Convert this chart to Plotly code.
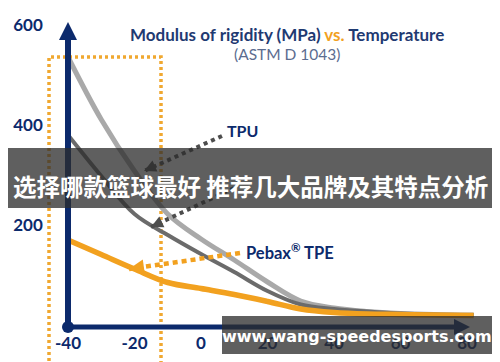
import math
import plotly.graph_objects as go

# ---------------- data ----------------
temps = [-40, -30, -20, -10, 0, 10, 20, 30, 40, 50, 60, 70, 82]
tpu_a = [540, 415, 312, 226, 176, 134, 90, 52, 38, 31, 27, 25, 24]      # light grey TPU
tpu_b = [384, 302, 226, 184, 146, 110, 72, 45, 36, 31, 27, 25, 24]      # dark grey TPU
pebax = [174, 145, 116, 89, 77, 65, 51, 36, 29, 26, 25, 24, 23]         # Pebax TPE

x_ticks = [-40, -20, 0, 20, 40, 60, 80]
y_ticks = [200, 400, 600]

title_main = "Modulus of rigidity (MPa) "
title_vs = "vs."
title_end = " Temperature"
subtitle = "(ASTM D 1043)"
banner_text = "选择哪款篮球最好 推荐几大品牌及其特点分析"
url_text = "www.wang-speedesports.com"

# ---------------- geometry helpers ----------------
W, H = 500, 362
OFF = 8                           # page body margin
PXU = 3.325                       # px per degree
X0 = -40 - (68 - OFF) / PXU
X1 = X0 + W / PXU
Y_ZERO_PX = 327 - OFF
Y1 = Y_ZERO_PX * 2
Y0 = Y1 - H * 2                   # 0.5 px per MPa


def px2x(px):
    return X0 + (px - OFF) / PXU


def px2y(py):
    return (327 - py) * 2


def fx(px):
    return (px - OFF) / W


def fy(py):
    return 1 - (py - OFF) / H


NAVY = "#0c2a6c"
ORANGE = "#f2a11f"
LGREY = "#a9a9a9"
DGREY = "#6b6b6b"

fig = go.Figure()

# curves
fig.add_trace(go.Scatter(x=temps, y=tpu_a, mode="lines",
                         line=dict(color=LGREY, width=5, shape="spline", smoothing=1.0)))
fig.add_trace(go.Scatter(x=temps, y=tpu_b, mode="lines",
                         line=dict(color=DGREY, width=4, shape="spline", smoothing=1.0)))
fig.add_trace(go.Scatter(x=temps, y=pebax, mode="lines",
                         line=dict(color=ORANGE, width=5.5, shape="spline", smoothing=1.0)))


def pointer(p_start, p_tip, color, width, dash, head):
    (sx, sy), (tx, ty) = p_start, p_tip
    fig.add_trace(go.Scatter(x=[px2x(sx), px2x(tx)], y=[px2y(sy), px2y(ty)], mode="lines",
                             line=dict(color=color, width=width, dash=dash)))
    ang = math.degrees(math.atan2(tx - sx, -(ty - sy)))
    fig.add_trace(go.Scatter(x=[px2x(tx)], y=[px2y(ty)], mode="markers",
                             marker=dict(symbol="arrow-up", size=head, color=color, angle=ang)))


pointer((222, 136), (144, 171), "#4d4d4d", 4, "4px,4px", 12)
pointer((234, 188), (151, 227), "#4d4d4d", 4, "4px,4px", 12)
pointer((240, 253), (129, 269), ORANGE, 4.5, "5px,4px", 15)

# axes (decorative, arrows)
fig.add_trace(go.Scatter(x=[-40, -40], y=[0, px2y(30)], mode="lines",
                         line=dict(color=NAVY, width=6)))
fig.add_trace(go.Scatter(x=[-40], y=[px2y(22)], mode="markers",
                         marker=dict(symbol="arrow-up", size=18, color=NAVY)))
fig.add_trace(go.Scatter(x=[-40, px2x(460)], y=[0, 0], mode="lines",
                         line=dict(color=NAVY, width=5)))
fig.add_trace(go.Scatter(x=[px2x(470)], y=[0], mode="markers",
                         marker=dict(symbol="arrow-right", size=16, color=NAVY)))
fig.add_trace(go.Scatter(x=[-40], y=[0], mode="markers",
                         marker=dict(symbol="circle", size=12, color=NAVY)))

# tick labels
fig.add_trace(go.Scatter(x=x_ticks, y=[px2y(345)] * len(x_ticks), mode="text",
                         text=[str(v) for v in x_ticks],
                         textfont=dict(family="Lato", size=17, color=NAVY, weight="bold"),
                         cliponaxis=False))
fig.add_trace(go.Scatter(x=[px2x(28)] * len(y_ticks), y=y_ticks, mode="text",
                         text=[str(v) for v in y_ticks],
                         textfont=dict(family="Lato", size=17, color=NAVY, weight="bold"),
                         cliponaxis=False))

# labels
fig.add_trace(go.Scatter(x=[px2x(227)], y=[px2y(133)], mode="text", text=["TPU"],
                         textposition="middle right",
                         textfont=dict(family="Lato", size=16, color=NAVY, weight="bold")))
fig.add_trace(go.Scatter(x=[px2x(246)], y=[px2y(255)], mode="text", text=["Pebax<sup>®</sup> TPE"],
                         textposition="middle right",
                         textfont=dict(family="Lato", size=16.5, color=NAVY, weight="bold")))

shapes = [
    dict(type="rect", xref="x", yref="y", x0=px2x(49), x1=px2x(161), y0=px2y(420), y1=px2y(57),
         line=dict(color="#f0a830", width=3.5, dash="3px,3px"), layer="below"),
    dict(type="rect", xref="paper", yref="paper", x0=fx(6), x1=fx(494),
         y0=fy(208), y1=fy(148), fillcolor="rgba(45,45,45,0.76)", line=dict(width=0),
         layer="above"),
    dict(type="rect", xref="paper", yref="paper", x0=fx(222), x1=fx(492),
         y0=fy(354), y1=fy(316), fillcolor="rgba(45,45,45,0.76)", line=dict(width=0),
         layer="above"),
]

annotations = [
    dict(xref="paper", yref="paper", x=fx(287), y=fy(35), xanchor="center", yanchor="middle",
         showarrow=False,
         text=(f"<b>{title_main}</b><b><span style='color:{ORANGE}'>{title_vs}</span></b>"
               f"<b>{title_end}</b>"),
         font=dict(family="Lato", size=17, color="#1f3a72")),
    dict(xref="paper", yref="paper", x=fx(287), y=fy(54), xanchor="center", yanchor="middle",
         showarrow=False, text=subtitle, font=dict(family="Lato", size=15.5, color="#5b6c8f")),
    dict(xref="paper", yref="paper", x=fx(250), y=fy(186), xanchor="center", yanchor="middle",
         showarrow=False, text=f"<b>{banner_text}</b>",
         font=dict(family="Noto Sans CJK SC", size=23.5, color="white")),
    dict(xref="paper", yref="paper", x=fx(357), y=fy(336), xanchor="center", yanchor="middle",
         showarrow=False, text=f"<b>{url_text}</b>",
         font=dict(family="DejaVu Sans", size=16, color="white")),
]

fig.update_layout(
    width=W, height=H, margin=dict(l=0, r=0, t=0, b=0),
    paper_bgcolor="white", plot_bgcolor="white", showlegend=False,
    xaxis=dict(range=[X0, X1], visible=False, fixedrange=True),
    yaxis=dict(range=[Y0, Y1], visible=False, fixedrange=True),
    shapes=shapes, annotations=annotations,
)

fig.write_html("out.html")
